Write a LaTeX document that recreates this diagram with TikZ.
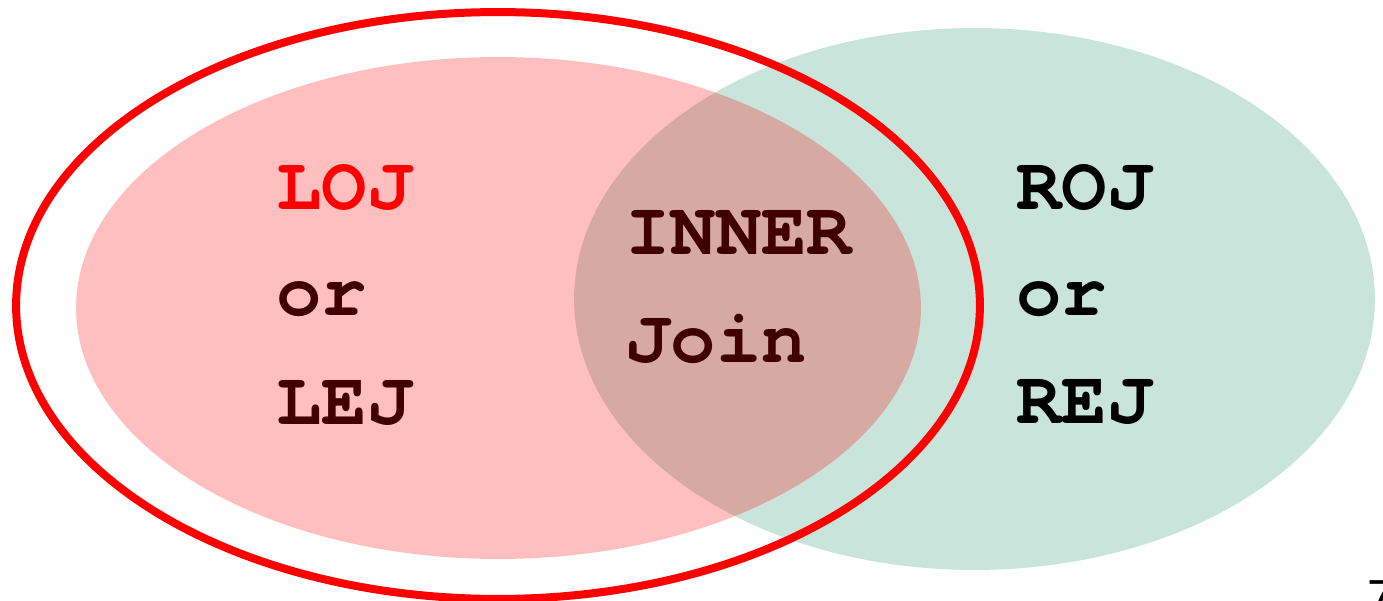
\documentclass[tikz,border=0pt]{standalone}
\usepackage{fontspec}
\setmonofont{texgyrecursor}[Extension=.otf, UprightFont=*-regular, BoldFont=*-bold]
\newfontfamily\pagefont{Liberation Sans}
\usepackage{xcolor}
\usetikzlibrary{shapes.geometric, positioning}

\definecolor{setgreen}{RGB}{201,228,218}
\definecolor{setred}{RGB}{255,0,0}
\definecolor{labeldark}{RGB}{64,0,0}

\begin{document}
\begin{tikzpicture}[
  x=0.02cm, y=-0.02cm,
  setshape/.style={
    ellipse, inner sep=0pt, outer sep=0pt
  },
  rightset/.style={
    setshape, fill=setgreen,
    minimum width=16.02cm, minimum height=10.84cm
  },
  leftset/.style={
    setshape, fill=setred, fill opacity=0.25,
    minimum width=16.9cm, minimum height=10.04cm
  },
  outerset/.style={
    setshape, draw=setred, line width=0.16cm,
    minimum width=19.28cm, minimum height=11.74cm
  },
  joinlabel/.style={
    anchor=base west, inner sep=0pt, text=labeldark,
    font=\fontsize{43}{43}\selectfont\ttfamily\bfseries
  }
]
\useasboundingbox (0,0) rectangle (1383,601);

%% The two sets, right one first
\node[rightset] (roj)   at (974.5,299) {};
\node[leftset]  (loj)   at (498.5,308) {};
\node[outerset] (outer) at (498,305.5) {};

%% Left side labels
\node[joinlabel, text=setred] (lojtxt) at (276,210) {LOJ};
\node[joinlabel] (lor)    at (276,316) {or};
\node[joinlabel] (lejtxt) at (276,424) {LEJ};

%% Overlap labels
\node[joinlabel] (inner) at (625,255) {INNER};
\node[joinlabel] (join)  at (625,362) {Join};

%% Right side labels
\node[joinlabel, text=black] (rojtxt) at (1016,210) {ROJ};
\node[joinlabel, text=black] (ror)    at (1016,316) {or};
\node[joinlabel, text=black] (rejtxt) at (1016,423) {REJ};

%% Page number, cut at the edge
\node[anchor=north west, inner sep=0pt, font=\pagefont\fontsize{28}{28}\selectfont] (pagenum) at (1367,580) {7};

\end{tikzpicture}
\end{document}
